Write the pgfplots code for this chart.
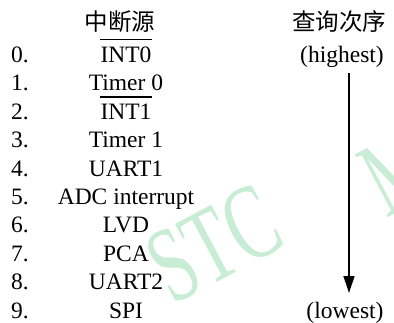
\documentclass[border=0pt]{standalone}
\usepackage{pgfplots}
\pgfplotsset{compat=1.18}
\usepackage{fontspec}
\setmainfont{Liberation Serif}
\newfontfamily\cjk{Noto Sans CJK SC}
\usetikzlibrary{arrows.meta}
\definecolor{wm}{RGB}{200,236,212}
\begin{document}
\begin{tikzpicture}[font=\fontsize{23.5}{28}\selectfont]
\begin{axis}[at={(0,0)},anchor=south west,width=394pt,height=322pt,scale only axis,hide axis,
  xmin=0,xmax=394,ymin=0,ymax=322,y dir=reverse,clip=false]
% watermark
\node[overlay,text=wm,inner sep=0,rotate=28,xscale=0.66,font=\fontsize{108}{120}\selectfont] at (axis cs:214,244) {STC};
\node[overlay,text=wm,inner sep=0,rotate=28,xscale=0.66,font=\fontsize{108}{120}\selectfont] at (axis cs:398,172) {M};
% headers
\node[inner sep=0,font=\fontsize{23.5}{28}\cjk] at (axis cs:120,21.5) {中断源};
\node[inner sep=0,font=\fontsize{23.5}{28}\cjk] at (axis cs:339,21.5) {查询次序};
% numbers
\node[inner sep=0,anchor=base west] at (axis cs:11,62.5) {0.};
\node[inner sep=0,anchor=base west] at (axis cs:11,90.9) {1.};
\node[inner sep=0,anchor=base west] at (axis cs:11,119.3) {2.};
\node[inner sep=0,anchor=base west] at (axis cs:11,147.7) {3.};
\node[inner sep=0,anchor=base west] at (axis cs:11,176.1) {4.};
\node[inner sep=0,anchor=base west] at (axis cs:11,204.5) {5.};
\node[inner sep=0,anchor=base west] at (axis cs:11,232.9) {6.};
\node[inner sep=0,anchor=base west] at (axis cs:11,261.3) {7.};
\node[inner sep=0,anchor=base west] at (axis cs:11,289.7) {8.};
\node[inner sep=0,anchor=base west] at (axis cs:11,318.1) {9.};
% names
\node[inner sep=0,anchor=base] (n0) at (axis cs:126,62.5) {INT0};
\node[inner sep=0,anchor=base] at (axis cs:126,90.9) {Timer 0};
\node[inner sep=0,anchor=base] (n2) at (axis cs:126,119.3) {INT1};
\node[inner sep=0,anchor=base] at (axis cs:126,147.7) {Timer 1};
\node[inner sep=0,anchor=base] at (axis cs:126,176.1) {UART1};
\node[inner sep=0,anchor=base] at (axis cs:126,204.5) {ADC interrupt};
\node[inner sep=0,anchor=base] at (axis cs:126,232.9) {LVD};
\node[inner sep=0,anchor=base] at (axis cs:126,261.3) {PCA};
\node[inner sep=0,anchor=base] at (axis cs:126,289.7) {UART2};
\node[inner sep=0,anchor=base] at (axis cs:126,318.1) {SPI};
\draw[line width=1.3pt] ([yshift=7pt]n0.north west) -- ([yshift=7pt]n0.north east);
\draw[line width=1.3pt] ([yshift=6.5pt]n2.north west) -- ([yshift=6.5pt]n2.north east);
% order column
\node[inner sep=0,anchor=base] at (axis cs:342,62.5) {(highest)};
\node[inner sep=0,anchor=base] at (axis cs:345,318.1) {(lowest)};
\addplot[black,line width=1.3pt,-{Triangle[length=17pt,width=11pt]}] coordinates {(349,73) (349,293)};
\end{axis}
\pgfresetboundingbox
\useasboundingbox (0,0) rectangle (394pt,322pt);
\end{tikzpicture}
\end{document}
